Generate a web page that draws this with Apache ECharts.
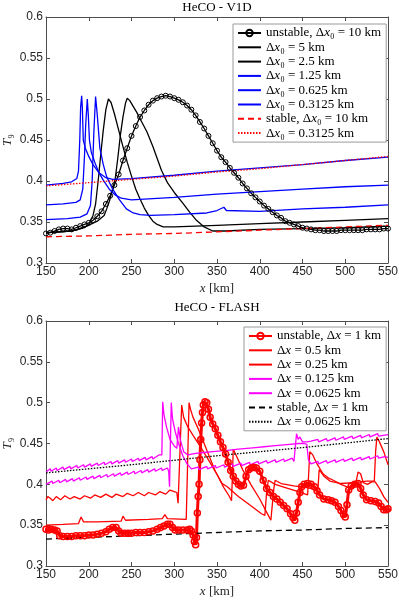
<!DOCTYPE html>
<html>
<head>
<meta charset="utf-8">
<script src="https://cdn.jsdelivr.net/npm/echarts@6/dist/echarts.min.js"></script>
<style>
html, body { margin: 0; background: #fff; }
#chart { width: 399px; height: 602px; }
</style>
</head>
<body>
<div id="chart"></div>
<script>
// ticks shared by both panels
var xTicks = [150, 200, 250, 300, 350, 400, 450, 500, 550];
var yTicks = [0.3, 0.35, 0.4, 0.45, 0.5, 0.55, 0.6];

// ---- HeCO - V1D ----
var v1dUnstable10 = [
    [150, 0.336], [155, 0.337], [160, 0.339], [165, 0.341], [170, 0.342], [175, 0.342], [180, 0.341],
    [185, 0.343], [190, 0.345], [195, 0.347], [200, 0.349], [205, 0.352], [210, 0.357], [215, 0.363],
    [220, 0.372], [225, 0.382], [230, 0.395], [235, 0.408], [240, 0.425], [245, 0.440], [250, 0.455],
    [255, 0.467], [260, 0.478], [265, 0.486], [270, 0.493], [275, 0.498], [280, 0.501], [285, 0.503],
    [290, 0.504], [295, 0.503], [300, 0.501], [305, 0.499], [310, 0.496], [315, 0.492], [320, 0.487],
    [325, 0.480], [330, 0.472], [335, 0.464], [340, 0.455], [345, 0.446], [350, 0.437], [355, 0.429],
    [360, 0.423], [365, 0.416], [370, 0.410], [375, 0.404], [380, 0.397], [385, 0.391], [390, 0.385],
    [395, 0.380], [400, 0.375], [405, 0.370], [410, 0.366], [415, 0.362], [420, 0.358], [425, 0.355],
    [430, 0.351], [435, 0.349], [440, 0.347], [445, 0.345], [450, 0.343], [455, 0.342], [460, 0.341],
    [465, 0.340], [470, 0.340], [475, 0.339], [480, 0.339], [485, 0.339], [490, 0.339], [495, 0.340],
    [500, 0.340], [505, 0.340], [510, 0.340], [515, 0.340], [520, 0.340], [525, 0.341], [530, 0.341],
    [535, 0.341], [540, 0.341], [545, 0.342], [550, 0.342]
];
var v1d5 = [
    [150, 0.337], [180, 0.339], [200, 0.346], [210, 0.351], [218, 0.358], [221, 0.366], [224, 0.375],
    [228, 0.390], [231, 0.403], [234, 0.428], [237, 0.456], [240, 0.478], [243, 0.495], [245, 0.501],
    [248, 0.498], [252, 0.491], [256, 0.484], [262, 0.472], [268, 0.460], [275, 0.442], [285, 0.413],
    [292, 0.398], [300, 0.386], [310, 0.373], [318, 0.362], [326, 0.352], [335, 0.344], [345, 0.339],
    [360, 0.339], [400, 0.341], [450, 0.342], [500, 0.343], [550, 0.345]
];
var v1d25 = [
    [150, 0.337], [170, 0.338], [185, 0.340], [195, 0.343], [200, 0.347], [205, 0.358], [208, 0.372],
    [211, 0.400], [214, 0.432], [217, 0.462], [220, 0.487], [223, 0.500], [226, 0.496], [230, 0.482],
    [235, 0.462], [240, 0.442], [245, 0.423], [250, 0.406], [255, 0.390], [260, 0.378], [265, 0.367],
    [270, 0.358], [275, 0.351], [280, 0.347], [287, 0.344], [300, 0.344], [350, 0.346], [400, 0.348],
    [450, 0.350], [500, 0.352], [550, 0.354]
];
var v1d125 = [
    [150, 0.353], [175, 0.354], [190, 0.356], [198, 0.360], [202, 0.370], [204, 0.400], [206, 0.460],
    [208, 0.503], [210, 0.480], [213, 0.440], [217, 0.420], [221, 0.405], [228, 0.390], [236, 0.377],
    [244, 0.366], [252, 0.361], [260, 0.359], [272, 0.358], [300, 0.359], [338, 0.361], [350, 0.364],
    [358, 0.368], [361, 0.364], [363, 0.362], [400, 0.363], [450, 0.366], [500, 0.368], [550, 0.371]
];
var v1d0625 = [
    [150, 0.371], [170, 0.372], [185, 0.374], [190, 0.377], [193, 0.390], [195, 0.430], [196.5, 0.470],
    [198.3, 0.500], [199.5, 0.480], [200.8, 0.450], [203, 0.435], [208, 0.420], [212, 0.410], [217, 0.401],
    [224, 0.390], [231, 0.383], [238, 0.379], [250, 0.377], [300, 0.380], [350, 0.384], [400, 0.387],
    [450, 0.390], [500, 0.393], [550, 0.395]
];
var v1d03125 = [
    [150, 0.395], [170, 0.397], [180, 0.399], [186, 0.403], [188, 0.412], [189.5, 0.450], [190.5, 0.490],
    [191.7, 0.504], [192.5, 0.490], [193.6, 0.450], [196, 0.440], [200, 0.430], [205, 0.420], [212, 0.410],
    [220, 0.404], [228, 0.402], [250, 0.403], [300, 0.407], [350, 0.412], [400, 0.416], [450, 0.420],
    [500, 0.425], [550, 0.429]
];
var v1dStable10 = [
    [150, 0.332], [200, 0.333], [250, 0.335], [300, 0.336], [350, 0.338], [400, 0.340], [450, 0.342],
    [500, 0.344], [550, 0.346]
];
var v1dStable03125 = [
    [150, 0.394], [200, 0.398], [250, 0.402], [300, 0.406], [350, 0.411], [400, 0.415], [450, 0.420],
    [500, 0.425], [550, 0.430]
];

// ---- HeCO - FLASH ----
var flashUnstable1 = [
    [150, 0.345], [153, 0.344], [156, 0.345], [160, 0.344], [163, 0.343], [166, 0.337], [170, 0.336],
    [175, 0.336], [180, 0.336], [185, 0.337], [190, 0.337], [195, 0.337], [200, 0.338], [205, 0.338],
    [210, 0.339], [215, 0.340], [220, 0.342], [224, 0.345], [228, 0.347], [232, 0.347], [235, 0.343],
    [238, 0.340], [242, 0.340], [246, 0.340], [250, 0.340], [255, 0.341], [260, 0.341], [265, 0.341],
    [270, 0.342], [275, 0.343], [280, 0.345], [284, 0.347], [288, 0.349], [292, 0.351], [295, 0.351],
    [298, 0.347], [301, 0.344], [305, 0.344], [310, 0.344], [315, 0.344], [318, 0.345], [320, 0.343],
    [322, 0.338], [323.5, 0.330], [325, 0.326], [326, 0.335], [327, 0.365], [328, 0.385], [329, 0.400],
    [330, 0.430], [331, 0.455], [332, 0.475], [333, 0.488], [334, 0.497], [336, 0.501], [338, 0.500],
    [340, 0.492], [342, 0.482], [345, 0.474], [348, 0.468], [351, 0.460], [354, 0.452], [357, 0.445],
    [360, 0.437], [363, 0.427], [366, 0.417], [369, 0.410], [372, 0.404], [375, 0.400], [378, 0.398],
    [381, 0.399], [384, 0.410], [387, 0.418], [390, 0.420], [393, 0.421], [396, 0.420], [400, 0.416],
    [404, 0.405], [408, 0.395], [412, 0.390], [416, 0.385], [420, 0.382], [424, 0.378], [428, 0.374],
    [432, 0.370], [436, 0.364], [439, 0.359], [441, 0.356], [443, 0.365], [445, 0.378], [447, 0.390],
    [449, 0.397], [452, 0.400], [456, 0.401], [460, 0.400], [464, 0.397], [467, 0.392], [470, 0.387],
    [475, 0.382], [480, 0.381], [484, 0.380], [488, 0.378], [492, 0.373], [495, 0.368], [498, 0.363],
    [500, 0.360], [502, 0.375], [504, 0.393], [507, 0.398], [511, 0.400], [515, 0.401], [518, 0.395],
    [521, 0.387], [525, 0.381], [530, 0.380], [535, 0.379], [539, 0.377], [542, 0.373], [545, 0.369],
    [548, 0.369], [550, 0.370]
];
var flash05 = [
    [150, 0.350], [170, 0.351], [188, 0.352], [191, 0.360], [194, 0.354], [210, 0.354], [238, 0.355],
    [240, 0.361], [243, 0.356], [270, 0.357], [286, 0.358], [289, 0.363], [292, 0.358], [314, 0.357],
    [315.5, 0.420], [317.3, 0.500], [319, 0.492], [322, 0.482], [328, 0.468], [338, 0.442], [348, 0.416],
    [356, 0.401], [362, 0.397], [375, 0.385], [392, 0.372], [402, 0.364], [406, 0.362], [408, 0.390],
    [410, 0.405], [418, 0.400], [430, 0.396], [445, 0.391], [456, 0.387], [458.5, 0.440], [462, 0.436],
    [467, 0.425], [474, 0.413], [480, 0.408], [486, 0.405], [495, 0.400], [502, 0.397], [508, 0.396],
    [512, 0.400], [515, 0.415], [518, 0.413], [521, 0.402], [526, 0.400], [531, 0.403], [535, 0.403],
    [540, 0.395], [545, 0.385], [550, 0.378]
];
var flash025 = [
    [150, 0.381], [152, 0.385], [155, 0.383], [158, 0.380], [162, 0.385], [167, 0.381], [172, 0.386],
    [178, 0.382], [183, 0.385], [190, 0.382], [195, 0.386], [202, 0.383], [207, 0.387], [214, 0.384],
    [220, 0.388], [227, 0.384], [232, 0.388], [240, 0.385], [245, 0.389], [252, 0.386], [258, 0.390],
    [265, 0.386], [270, 0.390], [278, 0.387], [283, 0.391], [290, 0.388], [295, 0.393], [300, 0.391],
    [303, 0.390], [304.5, 0.377], [306, 0.420], [308.7, 0.497], [311, 0.482], [316, 0.470], [322, 0.460],
    [330, 0.447], [340, 0.430], [350, 0.412], [358, 0.396], [364, 0.386], [367, 0.380], [368, 0.410],
    [369, 0.443], [373, 0.434], [380, 0.418], [390, 0.399], [400, 0.382], [408, 0.366], [413, 0.356],
    [415, 0.357], [416.5, 0.395], [418, 0.405], [425, 0.401], [440, 0.398], [455, 0.396], [468, 0.393],
    [469.5, 0.418], [475, 0.410], [482, 0.404], [495, 0.401], [510, 0.402], [525, 0.404], [534, 0.404],
    [535.5, 0.440], [537, 0.458], [540, 0.452], [545, 0.440], [550, 0.424]
];
var flash0125 = [
    [150, 0.400], [157, 0.404], [158, 0.401], [165, 0.405], [166, 0.402], [173, 0.406], [174, 0.403],
    [181, 0.407], [182, 0.404], [189, 0.408], [190, 0.405], [197, 0.409], [198, 0.406], [205, 0.410],
    [206, 0.407], [213, 0.411], [214, 0.408], [221, 0.412], [222, 0.409], [229, 0.413], [230, 0.410],
    [237, 0.414], [238, 0.411], [245, 0.415], [246, 0.412], [253, 0.416], [254, 0.413], [261, 0.417],
    [262, 0.414], [269, 0.418], [270, 0.415], [277, 0.419], [278, 0.416], [285, 0.420], [286, 0.417],
    [292, 0.420], [293.5, 0.416], [294.5, 0.397], [295.5, 0.450], [296.5, 0.500], [298, 0.480],
    [301, 0.465], [305, 0.450], [310, 0.435], [315, 0.425], [320, 0.419], [328, 0.421], [329, 0.418],
    [338, 0.422], [339, 0.419], [348, 0.423], [349, 0.420], [358, 0.424], [359, 0.421], [368, 0.425],
    [369, 0.422], [378, 0.426], [379, 0.423], [388, 0.427], [389, 0.424], [398, 0.428], [399, 0.425],
    [408, 0.429], [409, 0.426], [418, 0.430], [419, 0.427], [428, 0.431], [429, 0.428], [438, 0.432],
    [440, 0.428], [442, 0.428], [443, 0.462], [445, 0.455], [447, 0.458], [450, 0.452], [455, 0.452],
    [460, 0.453], [468, 0.455], [469, 0.452], [478, 0.456], [479, 0.453], [488, 0.457], [489, 0.454],
    [498, 0.458], [499, 0.455], [508, 0.459], [509, 0.456], [518, 0.460], [519, 0.457], [528, 0.461],
    [529, 0.458], [538, 0.462], [539, 0.459], [550, 0.461]
];
var flash00625 = [
    [150, 0.415], [155, 0.419], [156, 0.416], [162, 0.420], [163, 0.417], [170, 0.421], [171, 0.418],
    [178, 0.422], [179, 0.419], [186, 0.423], [187, 0.420], [194, 0.424], [195, 0.421], [202, 0.425],
    [203, 0.422], [210, 0.426], [211, 0.423], [218, 0.427], [219, 0.424], [226, 0.428], [227, 0.425],
    [234, 0.429], [235, 0.426], [242, 0.430], [243, 0.427], [250, 0.431], [251, 0.428], [258, 0.432],
    [259, 0.429], [266, 0.433], [267, 0.430], [274, 0.434], [275, 0.431], [282, 0.436], [284, 0.434],
    [285.5, 0.436], [286.5, 0.501], [288, 0.485], [291, 0.470], [295, 0.455], [300, 0.447], [303, 0.444],
    [305, 0.470], [307, 0.455], [311, 0.440], [316, 0.436], [325, 0.438], [326, 0.436], [335, 0.439],
    [336, 0.437], [345, 0.440], [346, 0.438], [355, 0.441], [356, 0.439], [365, 0.442], [366, 0.440],
    [375, 0.443], [376, 0.441], [385, 0.444], [386, 0.442], [395, 0.445], [396, 0.443], [405, 0.446],
    [406, 0.444], [415, 0.447], [416, 0.445], [425, 0.448], [426, 0.446], [435, 0.449], [436, 0.447],
    [445, 0.450], [446, 0.448], [452, 0.450], [455, 0.449], [457, 0.430], [460, 0.425], [468, 0.428],
    [469, 0.425], [478, 0.429], [479, 0.426], [488, 0.430], [489, 0.427], [498, 0.431], [499, 0.428],
    [508, 0.432], [509, 0.429], [518, 0.433], [519, 0.430], [528, 0.434], [529, 0.431], [538, 0.435],
    [539, 0.432], [546, 0.434], [550, 0.433]
];
var flashStable1 = [
    [150, 0.333], [200, 0.335], [250, 0.337], [300, 0.339], [350, 0.341], [400, 0.343], [450, 0.344],
    [500, 0.346], [550, 0.347]
];
var flashStable00625 = [
    [150, 0.414], [250, 0.424], [350, 0.435], [450, 0.445], [550, 0.456]
];

var serif = 'Liberation Serif';
var sans = 'Liberation Sans';
var axisColor = '#4d4d4d';

var chart = echarts.init(document.getElementById('chart'));

// plain line: keep a symbol type but make it invisible so the legend icon is just the line
function line(name, data, panel, color, extra) {
    var s = {
        name: name,
        type: 'line',
        xAxisIndex: panel * 2,
        yAxisIndex: panel * 2,
        data: data,
        symbol: 'circle',
        symbolSize: 0,
        showSymbol: false,
        lineStyle: { color: color, width: 1.3 },
        itemStyle: { color: 'rgba(0,0,0,0)', borderWidth: 0 },
        emphasis: { disabled: true },
        z: 3
    };
    return Object.assign(s, extra || {});
}

function marked(color, size, width, border) {
    return {
        symbol: 'circle',
        symbolSize: size,
        showSymbol: true,
        showAllSymbol: true,
        itemStyle: { color: 'rgba(0,0,0,0)', borderColor: color, borderWidth: border },
        lineStyle: { color: color, width: width }
    };
}

var ZW = '\u200b'; // keeps duplicate legend labels apart

var series = [
    line('unstable, Δx₀ = 10 km', v1dUnstable10, 0, '#000', marked('#000', 5, 1.3, 1)),
    line('Δx₀ = 5 km', v1d5, 0, '#000'),
    line('Δx₀ = 2.5 km', v1d25, 0, '#000'),
    line('Δx₀ = 1.25 km', v1d125, 0, '#0000ff'),
    line('Δx₀ = 0.625 km', v1d0625, 0, '#0000ff'),
    line('Δx₀ = 0.3125 km', v1d03125, 0, '#0000ff'),
    line('stable, Δx₀ = 10 km', v1dStable10, 0, '#ff0000', { lineStyle: { color: '#ff0000', width: 1.3, type: [6, 4] } }),
    line('Δx₀ = 0.3125 km' + ZW, v1dStable03125, 0, '#ff0000', { lineStyle: { color: '#ff0000', width: 1.3, type: [1.5, 1.5] } }),

    line('unstable, Δx = 1 km', flashUnstable1, 1, '#ff0000', marked('#ff0000', 6, 3, 1.5)),
    line('Δx = 0.5 km', flash05, 1, '#ff0000'),
    line('Δx = 0.25 km', flash025, 1, '#ff0000'),
    line('Δx = 0.125 km', flash0125, 1, '#ff00ff'),
    line('Δx = 0.0625 km', flash00625, 1, '#ff00ff'),
    line('stable, Δx = 1 km', flashStable1, 1, '#000', { lineStyle: { color: '#000', width: 1.3, type: [6, 4] } }),
    line('Δx = 0.0625 km' + ZW, flashStable00625, 1, '#000', { lineStyle: { color: '#000', width: 1.3, type: [1.5, 1.5] } })
];

function legendLabel(name) {
    var s = name.replace(/\u200b/g, '');
    var k = s.indexOf('Δx');
    return s.slice(0, k + 1) + '{i|x}' + s.slice(k + 2);
}

function legend(panel, left, top) {
    return {
        orient: 'vertical',
        left: left,
        top: top,
        data: series.slice(panel * 8, panel * 8 + (panel ? 7 : 8)).map(function (s) { return s.name; }),
        itemWidth: 23,
        itemHeight: 8,
        itemGap: 0.3,
        padding: [2, 5, 2, 4],
        backgroundColor: '#fff',
        borderColor: '#9a9a9a',
        borderWidth: 1,
        borderRadius: 0,
        selectedMode: false,
        formatter: legendLabel,
        textStyle: {
            fontFamily: serif,
            fontSize: 13,
            lineHeight: 14,
            color: '#000',
            rich: { i: { fontFamily: serif, fontSize: 13, fontStyle: 'italic', color: '#000' } }
        }
    };
}

var grids = [
    { left: 46, top: 17, width: 342, height: 246, outerBoundsMode: 'none', containLabel: false },
    { left: 46, top: 321, width: 342, height: 245, outerBoundsMode: 'none', containLabel: false }
];

function yLabel(v) {
    return String(+v.toFixed(2));
}

var xAxes = [], yAxes = [];
grids.forEach(function (g, i) {
    var tick = { inside: true, length: 4, lineStyle: { color: axisColor } };
    var edge = { show: true, onZero: false, lineStyle: { color: axisColor, width: 1 } };
    xAxes.push({
        type: 'value', gridIndex: i, position: 'bottom',
        min: xTicks[0], max: xTicks[xTicks.length - 1], interval: xTicks[1] - xTicks[0],
        axisLine: edge, axisTick: tick,
        axisLabel: { color: '#262626', fontFamily: sans, fontSize: 12, margin: 3 },
        splitLine: { show: false },
        name: '{i|x} [km]', nameLocation: 'middle', nameGap: 19, nameMoveOverlap: false,
        nameTextStyle: {
            fontFamily: serif, fontSize: 13, color: '#262626',
            rich: { i: { fontFamily: serif, fontSize: 13, fontStyle: 'italic', color: '#262626' } }
        }
    }, {
        type: 'value', gridIndex: i, position: 'top',
        min: xTicks[0], max: xTicks[xTicks.length - 1], interval: xTicks[1] - xTicks[0],
        axisLine: edge, axisTick: tick,
        axisLabel: { show: false }, splitLine: { show: false }
    });
    yAxes.push({
        type: 'value', gridIndex: i, position: 'left',
        min: yTicks[0], max: yTicks[yTicks.length - 1], interval: yTicks[1] - yTicks[0],
        axisLine: edge, axisTick: tick,
        axisLabel: { color: '#262626', fontFamily: sans, fontSize: 12, margin: 3, formatter: yLabel },
        splitLine: { show: false },
        name: '{i|T}₉', nameLocation: 'middle', nameGap: 32, nameMoveOverlap: false,
        nameTextStyle: {
            fontFamily: serif, fontSize: 13, color: '#262626',
            rich: { i: { fontFamily: serif, fontSize: 13, fontStyle: 'italic', color: '#262626' } }
        }
    }, {
        type: 'value', gridIndex: i, position: 'right',
        min: yTicks[0], max: yTicks[yTicks.length - 1], interval: yTicks[1] - yTicks[0],
        axisLine: edge, axisTick: tick,
        axisLabel: { show: false }, splitLine: { show: false }
    });
});

chart.setOption({
    animation: false,
    backgroundColor: '#fff',
    grid: grids,
    xAxis: xAxes,
    yAxis: yAxes,
    legend: [legend(0, 233, 24), legend(1, 244, 327)],
    graphic: [
        { type: 'text', x: 217, y: 8, style: { text: 'HeCO - V1D', font: '13px "Liberation Serif"', fill: '#000', textAlign: 'center', textVerticalAlign: 'middle' } },
        { type: 'text', x: 217, y: 308, style: { text: 'HeCO - FLASH', font: '13px "Liberation Serif"', fill: '#000', textAlign: 'center', textVerticalAlign: 'middle' } }
    ],
    series: series
});
</script>
</body>
</html>
